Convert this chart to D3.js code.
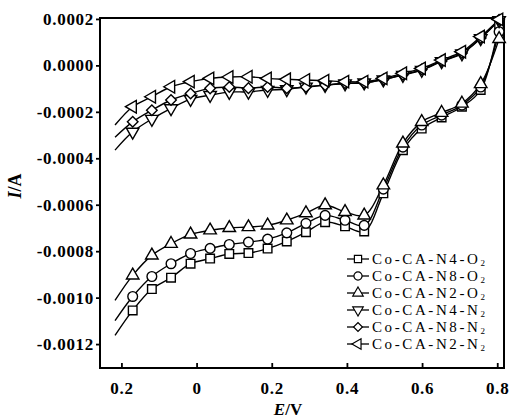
<!DOCTYPE html>
<html lang="en">
<head>
  <meta charset="UTF-8">
  <script src="https://d3js.org/d3.v7.min.js"></script>
  <title>Co-CA LSV</title>
  <style>
    body { margin: 0; background: #fff; }
    svg { display: block; }
    text { font-family: "Liberation Serif", "Times New Roman", serif; fill: #000; }
  </style>
</head>
<body>
  <svg width="513" height="418"></svg>
  <script>
    // potential (V); first value is only the start of the line, no marker there
    const potential = [-0.217, -0.170, -0.119, -0.068, -0.016, 0.036, 0.087, 0.138, 0.189, 0.240, 0.291,
                       0.342, 0.395, 0.446, 0.497, 0.549, 0.599, 0.652, 0.706, 0.756, 0.805];

    const n4O2 = [-0.001163, -0.001055, -0.000963, -0.000914, -0.000854, -0.000832, -0.000812, -0.000808, -0.000789, -0.000758, -0.000718,
                  -0.000675, -0.000693, -0.000715, -0.000551, -0.000365, -0.000272, -0.000224, -0.000178, -0.000106, 0.000178];
    const n8O2 = [-0.001099, -0.000995, -0.000909, -0.000854, -0.000810, -0.000788, -0.000771, -0.000761, -0.000748, -0.000721, -0.000680,
                  -0.000646, -0.000667, -0.000689, -0.000533, -0.000352, -0.000257, -0.000214, -0.000171, -0.000093, 0.000145];
    const n2O2 = [-0.001012, -0.000904, -0.000818, -0.000768, -0.000728, -0.000710, -0.000700, -0.000696, -0.000689, -0.000667, -0.000636,
                  -0.000602, -0.000631, -0.000646, -0.000516, -0.000336, -0.000243, -0.000204, -0.000164, -0.000080, 0.000114];
    const n4N2 = [-0.000365, -0.000286, -0.000231, -0.000185, -0.000145, -0.000128, -0.000115, -0.000114, -0.000106, -0.000103, -0.000092,
                  -0.000085, -0.000078, -0.000074, -0.000061, -0.000042, -0.000020, 0.000017, 0.000051, 0.000116, 0.000194];
    const n8N2 = [-0.000309, -0.000243, -0.000193, -0.000149, -0.000121, -0.000099, -0.000093, -0.000098, -0.000093, -0.000098, -0.000093,
                  -0.000085, -0.000077, -0.000076, -0.000061, -0.000040, -0.000018, 0.000019, 0.000053, 0.000118, 0.000196];
    const n2N2 = [-0.000257, -0.000178, -0.000135, -0.000092, -0.000070, -0.000056, -0.000050, -0.000049, -0.000056, -0.000060, -0.000063,
                  -0.000066, -0.000070, -0.000070, -0.000056, -0.000034, -0.000013, 0.000023, 0.000059, 0.000124, 0.000198];

    const legendNames = ["Co-CA-N4-O", "Co-CA-N8-O", "Co-CA-N2-O", "Co-CA-N4-N", "Co-CA-N8-N", "Co-CA-N2-N"];

    const xTicks = [-0.2, 0, 0.2, 0.4, 0.6, 0.8];
    const xTickLabels = ["0.2", "0", "0.2", "0.4", "0.6", "0.8"];
    const yTicks = [0.0002, 0, -0.0002, -0.0004, -0.0006, -0.0008, -0.0010, -0.0012];
    const yTickLabels = ["0.0002", "0.0000", "-0.0002", "-0.0004", "-0.0006", "-0.0008", "-0.0010", "-0.0012"];

    const svg = d3.select("svg");
    const plotL = 100, plotR = 504, plotT = 18, plotB = 368;

    const xScale = d3.scaleLinear().domain([-0.257, 0.818]).range([plotL, plotR]);
    const yScale = d3.scaleLinear().domain([-0.001303, 0.000204]).range([plotB, plotT]);

    // symbol + rotation for each series, same order as the legend
    const series = [
      { values: n4O2, symbol: d3.symbolSquare, size: 74, rotate: 0 },
      { values: n8O2, symbol: d3.symbolCircle, size: 74, rotate: 0 },
      { values: n2O2, symbol: d3.symbolTriangle, size: 68, rotate: 0 },
      { values: n4N2, symbol: d3.symbolTriangle, size: 68, rotate: 180 },
      { values: n8N2, symbol: d3.symbolSquare, size: 56, rotate: 45 },
      { values: n2N2, symbol: d3.symbolTriangle, size: 68, rotate: -90 }
    ];

    // axes
    const yAxis = d3.axisLeft(yScale)
      .tickValues(yTicks)
      .tickFormat((d, i) => yTickLabels[i])
      .tickSize(4)
      .tickPadding(2)
      .tickSizeOuter(0);
    const yG = svg.append("g").attr("transform", `translate(${plotL},0)`).call(yAxis);

    const xAxis = d3.axisBottom(xScale)
      .tickValues(xTicks)
      .tickFormat((d, i) => xTickLabels[i])
      .tickSize(-5)
      .tickPadding(14)
      .tickSizeOuter(0);
    const xG = svg.append("g").attr("transform", `translate(0,${plotB})`).call(xAxis);

    [yG, xG].forEach(g => {
      g.select(".domain").remove();
      g.selectAll(".tick line").attr("stroke", "#000").attr("stroke-width", 1.8);
      g.selectAll(".tick text")
        .style("font-family", "'Liberation Serif', serif")
        .style("font-weight", "bold")
        .style("font-size", "17px")
        .style("letter-spacing", "0.7px")
        .attr("fill", "#000");
    });

    // frame
    svg.append("rect")
      .attr("x", plotL).attr("y", plotT)
      .attr("width", plotR - plotL).attr("height", plotB - plotT)
      .attr("fill", "none").attr("stroke", "#000").attr("stroke-width", 2);

    // axis titles
    const ttl = svg.append("text")
      .attr("transform", "translate(21,186) rotate(-90)")
      .attr("text-anchor", "middle")
      .style("font-size", "18px").style("font-weight", "bold");
    ttl.append("tspan").style("font-style", "italic").text("I");
    ttl.append("tspan").text("/A");

    const xt = svg.append("text")
      .attr("x", 288).attr("y", 415)
      .attr("text-anchor", "middle")
      .style("font-size", "17px").style("font-weight", "bold");
    xt.append("tspan").style("font-style", "italic").text("E");
    xt.append("tspan").text("/V");

    // curves and markers
    const line = d3.line()
      .x(d => xScale(d[0]))
      .y(d => yScale(d[1]))
      .curve(d3.curveCatmullRom.alpha(0.5));

    series.forEach(s => {
      const pts = potential.map((e, i) => [e, s.values[i]]);
      svg.append("path")
        .attr("d", line(pts))
        .attr("fill", "none")
        .attr("stroke", "#000")
        .attr("stroke-width", 1.4);
    });

    series.forEach(s => {
      const pts = potential.map((e, i) => [e, s.values[i]]).slice(1);
      svg.selectAll(null)
        .data(pts)
        .enter()
        .append("path")
        .attr("d", d3.symbol().type(s.symbol).size(s.size)())
        .attr("transform", d => `translate(${xScale(d[0])},${yScale(d[1])}) rotate(${s.rotate})`)
        .attr("fill", "#fff")
        .attr("stroke", "#000")
        .attr("stroke-width", 1.4);
    });

    // legend
    const legend = svg.append("g").attr("transform", "translate(347,259)");
    legendNames.forEach((name, i) => {
      const s = series[i];
      const row = legend.append("g").attr("transform", `translate(0,${i * 17})`);
      row.append("line")
        .attr("x1", 0).attr("x2", 22).attr("y1", 0).attr("y2", 0)
        .attr("stroke", "#000").attr("stroke-width", 1.3);
      row.append("path")
        .attr("d", d3.symbol().type(s.symbol).size(s.size * 0.7)())
        .attr("transform", `translate(11,0) rotate(${s.rotate})`)
        .attr("fill", "#fff").attr("stroke", "#000").attr("stroke-width", 1.2);
      const t = row.append("text")
        .attr("x", 25).attr("y", 5)
        .style("font-size", "15px")
        .style("letter-spacing", "2.6px");
      t.append("tspan").text(name);
      t.append("tspan").attr("dy", 1.5).style("font-size", "9px").style("letter-spacing", "0px").text("2");
    });
  </script>
</body>
</html>
